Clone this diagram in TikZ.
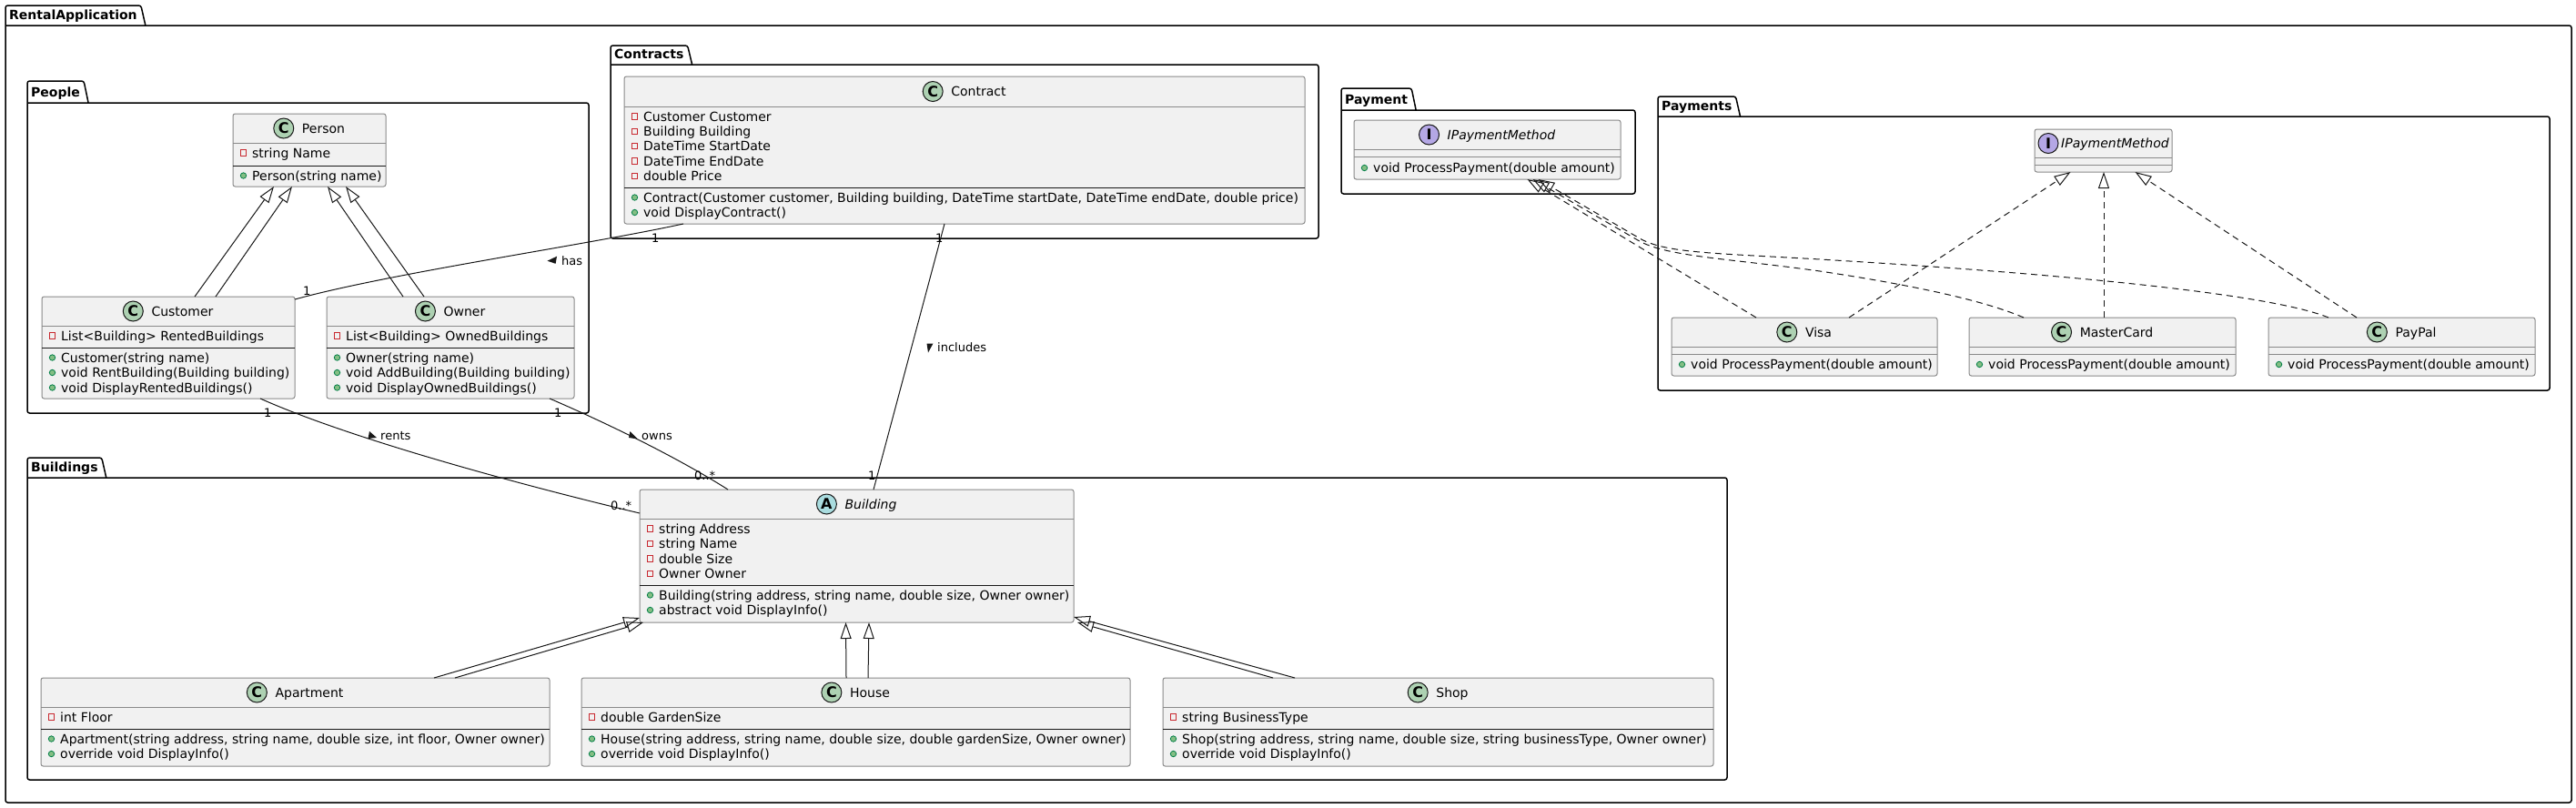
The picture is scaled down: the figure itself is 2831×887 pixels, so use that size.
\documentclass[tikz,border=0pt]{standalone}
\usepackage{fontspec}
\setmainfont{DejaVu Sans}
\usetikzlibrary{arrows.meta,calc}
\definecolor{boxfill}{HTML}{F1F1F1}
\definecolor{boxline}{HTML}{8A8A8A}
\definecolor{ink}{HTML}{181818}
\definecolor{cC}{HTML}{ADD1B2}
\definecolor{cA}{HTML}{A9DCDF}
\definecolor{cI}{HTML}{B4A7E5}
\definecolor{privred}{HTML}{C82930}
\definecolor{pubfill}{HTML}{84BE84}
\definecolor{publine}{HTML}{038048}
\newcounter{mm}
\newcommand\privm[3]{\stepcounter{mm}%
  \draw[privred, line width=0.9pt] (#1+8.5,#2-3.2) rectangle (#1+14.5,#2+3.2);
  \node[member] (m\themm) at (#1+21,#2+5) {#3};}
\newcommand\pubm[3]{\stepcounter{mm}%
  \draw[publine, fill=pubfill, line width=0.8pt] (#1+11.5,#2) circle (3.2pt);
  \node[member] (m\themm) at (#1+21,#2+5) {#3};}
\newcommand\clshdr[7]{%
  \node[clsname] (#1-n) at (#2+15.5,#3+5) {#6};
  \node[circ, fill=#5] (#1-c) at ($(#1-n.base west)+(-#7,-5)$) {#4};}
\newcommand\umlpkg[7]{%
  \node[pkgtitle] (#1) at (#2+4,#4-7) {#7};
  \coordinate (#1-a) at ([xshift=4pt]#1.base east);
  \coordinate (#1-b) at ([xshift=9pt]#1.base east);
  \draw[pkgline] (#1-b |- 0,#4) -- (#1-a |- 0,#3) -- (#2,#3) -- (#2,#6) -- (#5,#6) -- (#5,#4) -- (#2,#4);}
\tikzset{
  pkgline/.style={draw=black, line width=1.5pt, rounded corners=2.5pt},
  pkgtitle/.style={font=\fontsize{14}{16}\selectfont\bfseries, inner sep=0pt, anchor=base west},
  cls/.style={draw=boxline, fill=boxfill, line width=1pt, rounded corners=2.5pt, anchor=north west, inner sep=0pt, outer sep=0pt},
  clsname/.style={font=\fontsize{14}{16}\selectfont, inner sep=0pt, anchor=base},
  circ/.style={circle, draw=ink, line width=1pt, minimum size=22pt, inner sep=0pt, font=\fontsize{16}{16}\selectfont\bfseries},
  member/.style={font=\fontsize{14}{16}\selectfont, inner sep=0pt, anchor=base west},
  sepg/.style={draw=boxline, line width=1pt},
  sepk/.style={draw=ink, line width=1pt},
  assoc/.style={draw=ink, line width=1pt},
  inh/.style={draw=ink, line width=1pt, -{Triangle[open, length=18pt, width=12pt]}},
  real/.style={inh, dash pattern=on 7pt off 5pt},
  lbl/.style={font=\fontsize{13}{15}\selectfont, inner sep=0pt, anchor=base west},
}
\begin{document}
\begin{tikzpicture}[x=1pt, y=-1pt]
\useasboundingbox (0,0) rectangle (2831,887);
\fill[white] (0,0) rectangle (2831,887);

% ---------- packages ----------
\umlpkg{pkgRental}{6}{6}{28}{2826}{882}{RentalApplication}
\umlpkg{pkgContracts}{671}{50}{71}{1449}{262}{Contracts}
\umlpkg{pkgPeople}{30}{89}{113}{647}{454}{People}
\umlpkg{pkgPayment}{1474}{97}{121}{1797}{213}{Payment}
\umlpkg{pkgPayments}{1822}{106}{128}{2802}{429}{Payments}
\umlpkg{pkgBuildings}{30}{503}{525}{1898}{857}{Buildings}

% ---------- People ----------
\node[cls, minimum width=168pt, minimum height=80pt] (person) at (256,125) {};
\clshdr{person}{340}{141}{C}{cC}{Person}{20}
\draw[sepg] (256,157) -- (424,157);
\draw[sepk] (256,182) -- (424,182);
\privm{256}{168}{string Name}
\pubm{256}{193}{Person(string name)}

\node[cls, minimum width=278pt, minimum height=112pt] (customer) at (46,326) {};
\clshdr{customer}{185}{342}{C}{cC}{Customer}{20}
\draw[sepg] (46,358) -- (324,358);
\draw[sepk] (46,382) -- (324,382);
\privm{46}{369}{List<Building> RentedBuildings}
\pubm{46}{393}{Customer(string name)}
\pubm{46}{409.5}{void RentBuilding(Building building)}
\pubm{46}{426}{void DisplayRentedBuildings()}

\node[cls, minimum width=272pt, minimum height=112pt] (owner) at (359,326) {};
\clshdr{owner}{495}{342}{C}{cC}{Owner}{20}
\draw[sepg] (359,358) -- (631,358);
\draw[sepk] (359,382) -- (631,382);
\privm{359}{369}{List<Building> OwnedBuildings}
\pubm{359}{393}{Owner(string name)}
\pubm{359}{409.5}{void AddBuilding(Building building)}
\pubm{359}{426}{void DisplayOwnedBuildings()}

% ---------- Contracts ----------
\node[cls, minimum width=748pt, minimum height=162pt] (contract) at (686,84) {};
\clshdr{contract}{1060}{100.5}{C}{cC}{Contract}{20}
\draw[sepg] (686,117) -- (1434,117);
\draw[sepk] (686,206) -- (1434,206);
\privm{686}{128}{Customer Customer}
\privm{686}{144.3}{Building Building}
\privm{686}{160.6}{DateTime StartDate}
\privm{686}{177}{DateTime EndDate}
\privm{686}{193.3}{double Price}
\pubm{686}{217}{Contract(Customer customer, Building building, DateTime startDate, DateTime endDate, double price)}
\pubm{686}{233.5}{void DisplayContract()}

% ---------- Payment ----------
\node[cls, minimum width=293pt, minimum height=65pt] (pim1) at (1488,132) {};
\clshdr{pim1}{1634.5}{148}{I}{cI}{\itshape IPaymentMethod}{20}
\draw[sepg] (1488,164) -- (1781,164);
\draw[sepg] (1488,172) -- (1781,172);
\pubm{1488}{184.5}{void ProcessPayment(double amount)}

% ---------- Payments ----------
\node[cls, minimum width=151pt, minimum height=47pt] (pim2) at (2236,142) {};
\node[clsname, anchor=base west] (pim2-n) at (2265,162.5) {\itshape IPaymentMethod};
\node[circ, fill=cI] (pim2-c) at (2251,157.5) {I};
\draw[sepg] (2236,173) -- (2387,173);
\draw[sepg] (2236,181) -- (2387,181);

\node[cls, minimum width=292pt, minimum height=64pt] (visa) at (1837,349) {};
\clshdr{visa}{1983}{365}{C}{cC}{Visa}{20}
\draw[sepg] (1837,381) -- (2129,381);
\draw[sepg] (1837,389) -- (2129,389);
\pubm{1837}{400.5}{void ProcessPayment(double amount)}

\node[cls, minimum width=293pt, minimum height=64pt] (mastercard) at (2164,349) {};
\clshdr{mastercard}{2310.5}{365}{C}{cC}{MasterCard}{20}
\draw[sepg] (2164,381) -- (2457,381);
\draw[sepg] (2164,389) -- (2457,389);
\pubm{2164}{400.5}{void ProcessPayment(double amount)}

\node[cls, minimum width=293pt, minimum height=64pt] (paypal) at (2493,349) {};
\clshdr{paypal}{2639.5}{365}{C}{cC}{PayPal}{20}
\draw[sepg] (2493,381) -- (2786,381);
\draw[sepg] (2493,389) -- (2786,389);
\pubm{2493}{400.5}{void ProcessPayment(double amount)}

% ---------- Buildings ----------
\node[cls, minimum width=477pt, minimum height=146pt] (building) at (703,538) {};
\clshdr{building}{941.5}{554}{A}{cA}{\itshape Building}{20}
\draw[sepg] (703,570) -- (1180,570);
\draw[sepk] (703,643) -- (1180,643);
\privm{703}{581}{string Address}
\privm{703}{597.5}{string Name}
\privm{703}{614}{double Size}
\privm{703}{630.5}{Owner Owner}
\pubm{703}{654}{Building(string address, string name, double size, Owner owner)}
\pubm{703}{670.5}{abstract void DisplayInfo()}

\node[cls, minimum width=559pt, minimum height=97pt] (apartment) at (45,745) {};
\clshdr{apartment}{324.5}{761}{C}{cC}{Apartment}{20}
\draw[sepg] (45,777) -- (604,777);
\draw[sepk] (45,801) -- (604,801);
\privm{45}{788}{int Floor}
\pubm{45}{812}{Apartment(string address, string name, double size, int floor, Owner owner)}
\pubm{45}{828.5}{override void DisplayInfo()}

\node[cls, minimum width=603pt, minimum height=97pt] (house) at (639,745) {};
\clshdr{house}{940.5}{761}{C}{cC}{House}{20}
\draw[sepg] (639,777) -- (1242,777);
\draw[sepk] (639,801) -- (1242,801);
\privm{639}{788}{double GardenSize}
\pubm{639}{812}{House(string address, string name, double size, double gardenSize, Owner owner)}
\pubm{639}{828.5}{override void DisplayInfo()}

\node[cls, minimum width=605pt, minimum height=97pt] (shop) at (1278,745) {};
\clshdr{shop}{1580.5}{761}{C}{cC}{Shop}{20}
\draw[sepg] (1278,777) -- (1883,777);
\draw[sepk] (1278,801) -- (1883,801);
\privm{1278}{788}{string BusinessType}
\pubm{1278}{812}{Shop(string address, string name, double size, string businessType, Owner owner)}
\pubm{1278}{828.5}{override void DisplayInfo()}

% ---------- inheritance ----------
\draw[inh] ([xshift=29pt]customer.north) -- ([xshift=-39pt]person.south);
\draw[inh] ([xshift=52pt]customer.north) -- ([xshift=-19pt]person.south);
\draw[inh] ([xshift=-52pt]owner.north) -- ([xshift=20pt]person.south);
\draw[inh] ([xshift=-29pt]owner.north) -- ([xshift=40pt]person.south);

\draw[inh] ([xshift=152.5pt]apartment.north) -- ([yshift=5pt]building.south west);
\draw[inh] ([xshift=175.5pt]apartment.north) -- ([xshift=4pt]building.south west);
\draw[inh] ([xshift=-10.5pt]house.north) -- ([xshift=-12pt]building.south);
\draw[inh] ([xshift=13.5pt]house.north) -- ([xshift=13.5pt]building.south);
\draw[inh] ([xshift=-157.5pt]shop.north) -- ([yshift=6pt]building.south east);
\draw[inh] ([xshift=-181.5pt]shop.north) -- ([xshift=4pt]building.south east);

% ---------- realizations ----------
\draw[real] ([xshift=-53pt]visa.north) -- ([xshift=44pt]pim1.south);
\draw[real] ([xshift=-86.5pt]mastercard.north) .. controls (2180,330) and (2100,313) .. (2000,298)
  .. controls (1900,284) and (1830,282) .. (1800,264) -- ([xshift=50pt]pim1.south);
\draw[real] ([xshift=-80.5pt]paypal.north) .. controls (2500,325) and (2300,303) .. (2000,285)
  .. controls (1880,278) and (1830,278) .. (1802,262) -- ([xshift=56pt]pim1.south);
\draw[real] ([xshift=49pt]visa.north) -- ([xshift=-36pt]pim2.south);
\draw[real] ([xshift=1.5pt]mastercard.north) -- ([xshift=0.5pt]pim2.south);
\draw[real] ([xshift=-49.5pt]paypal.north) -- ([xshift=35pt]pim2.south);

% ---------- associations ----------
\draw[assoc] ([xshift=-309pt]contract.south) .. controls (640,270) and (430,300) .. ([yshift=-3pt]customer.north east);
\draw[assoc] ([xshift=101pt]customer.south) .. controls (380,480) and (560,530) .. ([yshift=-26pt]building.north west);
\draw[assoc] ([xshift=109pt]owner.south) .. controls (660,462) and (740,500) .. ([xshift=-141.5pt]building.north);
\draw[assoc] ([xshift=-22pt]contract.south) -- ([xshift=18.5pt]building.north);

% ---------- labels ----------
\node[lbl] (lHasA) at (333,324) {1};
\node[lbl] (lHasB) at (716,266) {1};
\node[lbl] (lHas) at (617,291.5) {has};
\fill[ink] (601.5,286.7) -- (612,281.7) -- (610.6,289.8) -- cycle;
\node[lbl] (lRentA) at (290,458) {1};
\node[lbl] (lRentB) at (671,560) {0..*};
\node[lbl] (lRents) at (418,483.5) {rents};
\fill[ink] (406,474) -- (404.5,482) -- (414,481) -- cycle;
\node[lbl] (lOwnA) at (609,458) {1};
\node[lbl] (lOwnB) at (763,527) {0..*};
\node[lbl] (lOwns) at (705,483.5) {owns};
\fill[ink] (692.5,474) -- (691,481) -- (701,482.5) -- cycle;
\node[lbl] (lIncA) at (1028,266) {1};
\node[lbl] (lIncB) at (954,527) {1};
\node[lbl] (lInc) at (1030,386.5) {includes};
\fill[ink] (1018.5,377.5) -- (1025.5,377.5) -- (1020,387.5) -- cycle;
\end{tikzpicture}
\end{document}
